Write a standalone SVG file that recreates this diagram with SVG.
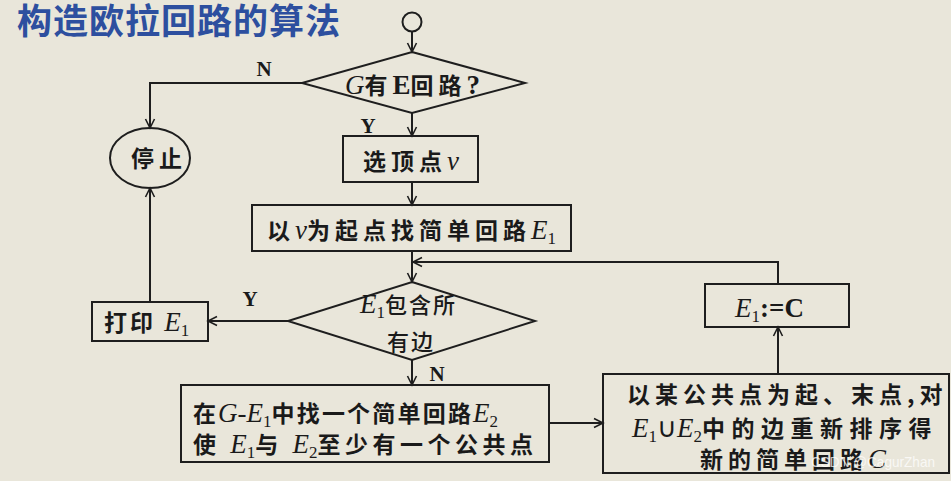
<svg xmlns="http://www.w3.org/2000/svg" width="951" height="481" viewBox="0 0 951 481">
<defs>
<marker id="ah" markerUnits="userSpaceOnUse" markerWidth="12" markerHeight="12" refX="10" refY="6" orient="auto">
<path d="M1,1.5 L10,6 L1,10.5" fill="none" stroke="#1e1e1e" stroke-width="1.6"/>
</marker>
</defs>
<style>
.bg{fill:#e9e6da}
.shape{fill:none;stroke:#1e1e1e;stroke-width:2}
.conn{fill:none;stroke:#1e1e1e;stroke-width:2;marker-end:url(#ah)}
text{fill:#1a1a1a}
.cn{font-family:"Noto Sans CJK SC","Noto Sans",sans-serif;font-weight:700;font-size:23px;letter-spacing:5px}
.cnr{font-family:"Noto Sans CJK SC","Noto Sans",sans-serif;font-weight:500;font-size:22px;letter-spacing:2px}
.it{font-family:"Liberation Serif",serif;font-style:italic;font-weight:400;font-size:27px;letter-spacing:0}
.rm{font-family:"Liberation Serif",serif;font-weight:700;font-size:27px;letter-spacing:0}
.sub{font-family:"Liberation Serif",serif;font-style:normal;font-weight:400;font-size:17px;letter-spacing:0}
.lab{font-family:"Liberation Serif",serif;font-weight:700;font-size:21px;text-anchor:middle}
.title{font-family:"Noto Sans CJK SC","Noto Sans",sans-serif;font-weight:700;font-size:35px;letter-spacing:1px;fill:#2d4f9f}
.wm{font-family:"Liberation Sans",sans-serif;font-size:15px;fill:#ffffff;fill-opacity:0.75}
</style>
<rect class="bg" x="0" y="0" width="951" height="481"/>
<text class="title" x="17" y="34">构造欧拉回路的算法</text>

<g id="connectors">
<path class="conn" d="M412,32 L412,52"/>
<path class="conn" d="M302,83 L150,83 L150,128"/>
<path class="conn" d="M412,113 L412,136"/>
<path class="conn" d="M412,182 L412,205"/>
<path class="conn" d="M412,251 L412,282"/>
<path class="conn" d="M778,284 L778,262 L413,262"/>
<path class="conn" d="M288,321 L208,321"/>
<path class="conn" d="M150,302 L150,188"/>
<path class="conn" d="M412,360 L412,385"/>
<path class="conn" d="M549,423 L603,423"/>
<path class="conn" d="M778,374 L778,327"/>
<text class="lab" x="264" y="76">N</text>
<text class="lab" x="368" y="133">Y</text>
<text class="lab" x="250" y="306">Y</text>
<text class="lab" x="437" y="381">N</text>
</g>

<g id="start">
<circle class="shape" cx="412" cy="22" r="9.5"/>
</g>

<g id="decision1">
<polygon class="shape" points="412,52 525,83 412,113 302,83"/>
<text x="345" y="94"><tspan class="it">G</tspan><tspan class="cn">有</tspan><tspan class="rm">E</tspan><tspan class="cn">回路</tspan><tspan class="rm">?</tspan></text>
</g>

<g id="stop">
<ellipse class="shape" cx="150" cy="158" rx="40" ry="30"/>
<text class="cn" x="131" y="167">停止</text>
</g>

<g id="selectV">
<rect class="shape" x="343" y="136" width="135" height="46"/>
<text x="363" y="170"><tspan class="cn">选顶点</tspan><tspan class="it">v</tspan></text>
</g>

<g id="findE1">
<rect class="shape" x="252" y="205" width="319" height="46"/>
<text x="267" y="239"><tspan class="cn">以</tspan><tspan class="it">v</tspan><tspan class="cn">为起点找简单回路</tspan><tspan class="it">E</tspan><tspan class="sub" dy="5">1</tspan></text>
</g>

<g id="decision2">
<polygon class="shape" points="412,282 535,321 412,360 288,321"/>
<text x="360" y="313"><tspan class="it">E</tspan><tspan class="sub" dy="5">1</tspan><tspan class="cnr" dy="-5">包含所</tspan></text>
<text class="cnr" x="387" y="350">有边</text>
</g>

<g id="printE1">
<rect class="shape" x="92" y="302" width="116" height="39"/>
<text x="104" y="331"><tspan class="cn" style="letter-spacing:3px">打印 </tspan><tspan class="it">E</tspan><tspan class="sub" dy="5">1</tspan></text>
</g>

<g id="findE2">
<rect class="shape" x="181" y="385" width="368" height="77"/>
<text x="193" y="422"><tspan class="cn" style="letter-spacing:2px">在</tspan><tspan class="it">G</tspan><tspan class="rm" style="font-weight:400">-</tspan><tspan class="it">E</tspan><tspan class="sub" dy="5">1</tspan><tspan class="cn" style="letter-spacing:2.2px" dy="-5">中找一个简单回路</tspan><tspan class="it">E</tspan><tspan class="sub" dy="5">2</tspan></text>
<text x="193" y="453"><tspan class="cn" style="letter-spacing:4.5px">使 </tspan><tspan class="it">E</tspan><tspan class="sub" dy="5">1</tspan><tspan class="cn" style="letter-spacing:4.5px" dy="-5">与 </tspan><tspan class="it">E</tspan><tspan class="sub" dy="5">2</tspan><tspan class="cn" style="letter-spacing:4.5px" dy="-5">至少有一个公共点</tspan></text>
</g>

<g id="reorder">
<rect class="shape" x="603" y="374" width="346" height="99"/>
<text class="cn" x="627" y="403">以某公共点为起、末点,对</text>
<text x="632" y="437"><tspan class="it">E</tspan><tspan class="sub" dy="5">1</tspan><tspan class="rm" style="font-weight:400" dy="-5">∪</tspan><tspan class="it">E</tspan><tspan class="sub" dy="5">2</tspan><tspan class="cn" style="letter-spacing:6.5px" dy="-5">中的边重新排序得</tspan></text>
<text x="700" y="468"><tspan class="cn">新的简单回路</tspan><tspan class="it">C</tspan></text>
</g>

<g id="assign">
<rect class="shape" x="705" y="284" width="144" height="43"/>
<text x="735" y="317"><tspan class="it">E</tspan><tspan class="sub" dy="5">1</tspan><tspan class="rm" dy="-5">:=C</tspan></text>
</g>

<text class="wm" x="811" y="467" textLength="124" lengthAdjust="spacingAndGlyphs">CSDN @CagurZhan</text>
</svg>
